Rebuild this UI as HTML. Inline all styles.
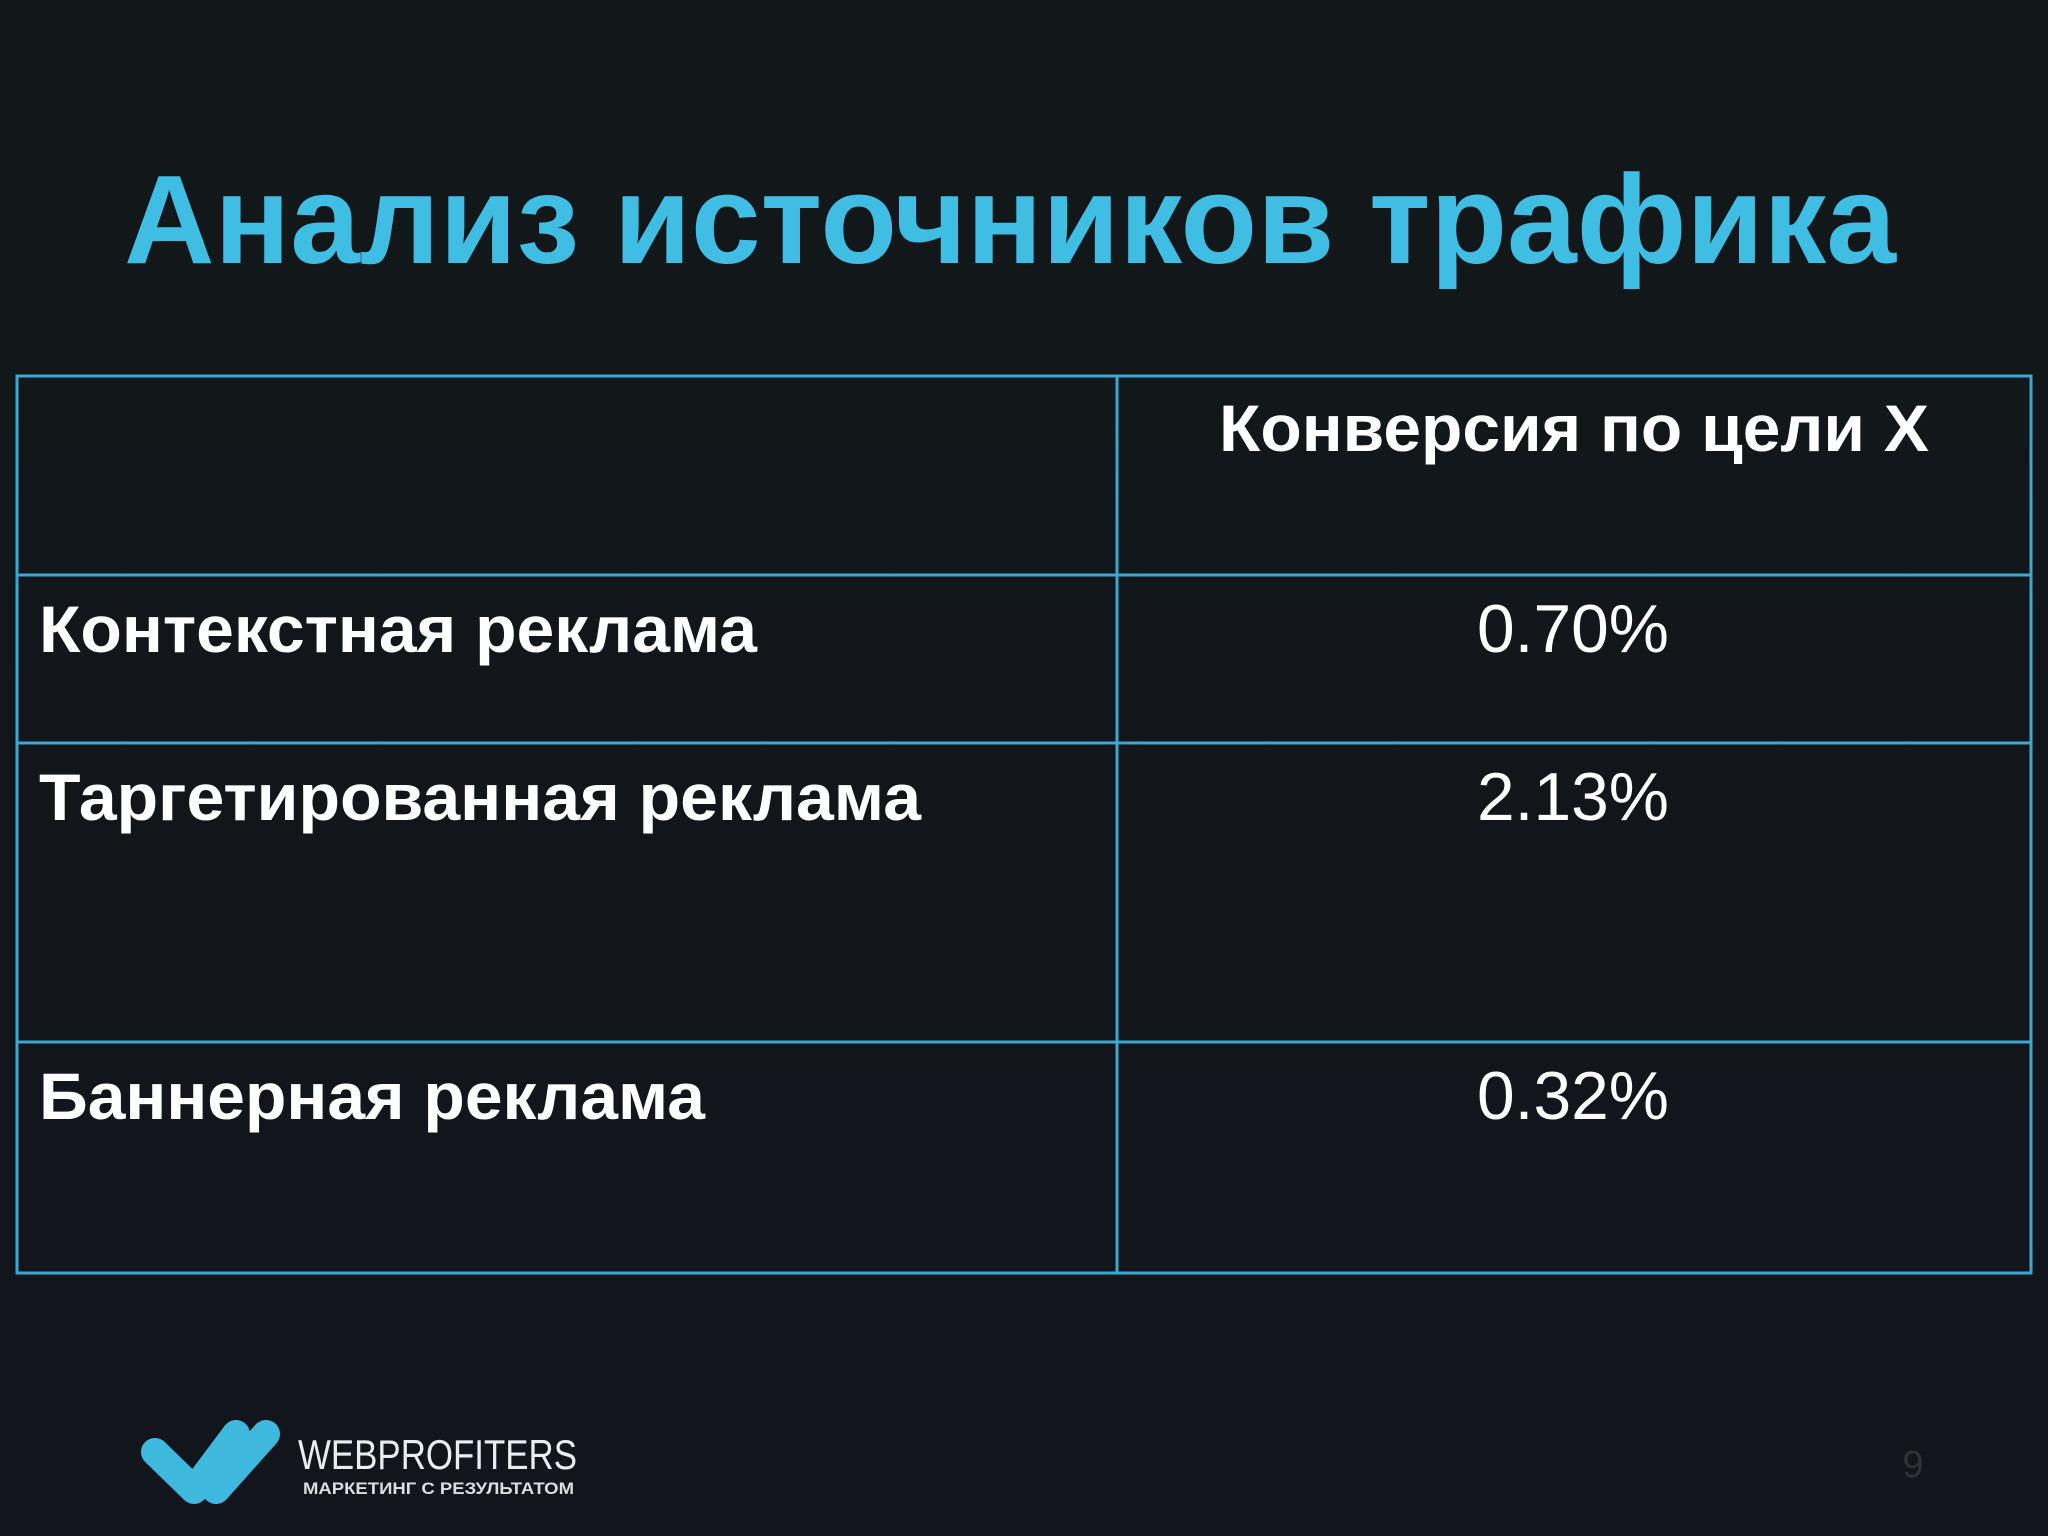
<!DOCTYPE html>
<html><head><meta charset="utf-8"><style>
html,body{margin:0;padding:0;background:#12181b;}
svg{display:block}
text{font-family:"Liberation Sans",sans-serif;}
</style></head><body>
<svg width="2048" height="1536" viewBox="0 0 2048 1536">
<defs><linearGradient id="bg" x1="0" y1="0" x2="0" y2="1"><stop offset="0" stop-color="#12171a"/><stop offset="1" stop-color="#12161c"/></linearGradient></defs>
<rect width="2048" height="1536" fill="url(#bg)"/>
<text x="124" y="263" font-size="126" font-weight="bold" fill="#3fbde2" textLength="1772" lengthAdjust="spacingAndGlyphs">Анализ источников трафика</text>
<g stroke="#3aa8cf" stroke-width="3" fill="none">
<rect x="17" y="376" width="2014" height="897"/>
<line x1="1117" y1="376" x2="1117" y2="1273"/>
<line x1="17" y1="575" x2="2031" y2="575"/>
<line x1="17" y1="743" x2="2031" y2="743"/>
<line x1="17" y1="1042" x2="2031" y2="1042"/>
</g>
<text x="1574" y="451" text-anchor="middle" font-size="66" font-weight="bold" fill="#fff" textLength="710" lengthAdjust="spacingAndGlyphs">Конверсия по цели X</text>
<text x="39" y="652" font-size="66" font-weight="bold" fill="#fff" textLength="718" lengthAdjust="spacingAndGlyphs">Контекстная реклама</text>
<text x="39" y="820" font-size="66" font-weight="bold" fill="#fff" textLength="882" lengthAdjust="spacingAndGlyphs">Таргетированная реклама</text>
<text x="39" y="1119" font-size="66" font-weight="bold" fill="#fff" textLength="666" lengthAdjust="spacingAndGlyphs">Баннерная реклама</text>
<text x="1573" y="652" text-anchor="middle" font-size="68" fill="#fff" textLength="192" lengthAdjust="spacingAndGlyphs">0.70%</text>
<text x="1573" y="820" text-anchor="middle" font-size="68" fill="#fff" textLength="192" lengthAdjust="spacingAndGlyphs">2.13%</text>
<text x="1573" y="1119" text-anchor="middle" font-size="68" fill="#fff" textLength="192" lengthAdjust="spacingAndGlyphs">0.32%</text>
<g>
<g stroke="#3fb8de" stroke-width="28" stroke-linecap="round" stroke-linejoin="round" fill="none">
<path d="M155 1452 L194 1490 L236 1434"/>
<path d="M216 1490 L266 1434"/>
</g>
<text x="298" y="1469" font-size="42" fill="#e8eef0" textLength="279" lengthAdjust="spacingAndGlyphs">WEBPROFITERS</text>
<text x="303" y="1494" font-size="17" font-weight="bold" fill="#d8dde0" textLength="271" lengthAdjust="spacingAndGlyphs">МАРКЕТИНГ С РЕЗУЛЬТАТОМ</text>
</g>
<text x="1913" y="1477" text-anchor="middle" font-size="38" fill="#2c3236">9</text>
</svg>
</body></html>
